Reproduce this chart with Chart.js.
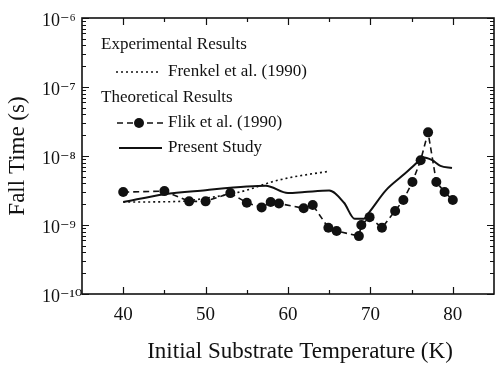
<!DOCTYPE html>
<html>
<head>
<meta charset="utf-8">
<script src="https://cdn.jsdelivr.net/npm/chart.js@4.4.1/dist/chart.umd.min.js"></script>
<style>
  html, body { margin: 0; padding: 0; background: #fff; }
  #wrap { width: 499px; height: 366px; position: relative; }
</style>
</head>
<body>
<div id="wrap"><canvas id="c" width="499" height="366"></canvas></div>
<script>
// ---- Data ----
const xTickValues = [40, 50, 60, 70, 80];
const yTickValues = [1e-10, 1e-9, 1e-8, 1e-7, 1e-6];
const yTickLabels = ['10\u207B\u00B9\u2070', '10\u207B\u2079', '10\u207B\u2078', '10\u207B\u2077', '10\u207B\u2076'];

const frenkelTemps  = [40, 47, 50, 53, 55, 58, 60, 62, 65];
const frenkelValues = [2.15e-9, 2.2e-9, 2.45e-9, 2.8e-9, 3.2e-9, 4.2e-9, 4.8e-9, 5.3e-9, 6.0e-9];

const flikTemps  = [40, 45, 48, 50, 53, 55, 56.8, 57.9, 58.9, 61.9, 63, 64.9, 65.9, 68.6, 68.9, 69.9, 71.4, 73, 74, 75.1, 76.1, 77, 78, 79, 80];
const flikValues = [3.0e-9, 3.1e-9, 2.2e-9, 2.2e-9, 2.9e-9, 2.1e-9, 1.8e-9, 2.15e-9, 2.05e-9, 1.75e-9, 1.95e-9, 9.1e-10, 8.2e-10, 6.9e-10, 1.0e-9, 1.3e-9, 9.1e-10, 1.6e-9, 2.3e-9, 4.2e-9, 8.7e-9, 2.2e-8, 4.2e-9, 3.0e-9, 2.3e-9];

const presentTemps  = [40, 45, 50, 55, 57.3, 60, 62, 65, 66.8, 68.1, 69.2, 69.9, 71.9, 73.9, 75.7, 76.3, 77.5, 78.5, 79.9];
const presentValues = [2.15e-9, 2.8e-9, 3.2e-9, 3.6e-9, 3.7e-9, 2.9e-9, 3.0e-9, 3.15e-9, 2.1e-9, 1.23e-9, 1.23e-9, 1.55e-9, 3.2e-9, 5.2e-9, 8.1e-9, 9.6e-9, 8.7e-9, 7.2e-9, 6.7e-9];

const seriesNames = ['Frenkel et al. (1990)', 'Flik et al. (1990)', 'Present Study'];
const legendHeaders = ['Experimental Results', 'Theoretical Results'];
const xTitle = 'Initial Substrate Temperature (K)';
const yTitle = 'Fall Time (s)';

// ---- Chart ----
const SERIF = "'Liberation Serif', 'Times New Roman', 'DejaVu Serif', serif";
const INK = '#111';
const toPts = (xs, ys) => xs.map((x, i) => ({ x: x, y: ys[i] }));

const framePlugin = {
  id: 'frame',
  afterDraw(chart) {
    const { ctx, chartArea: a, scales } = chart;
    const xs = scales.x, ys = scales.y;
    ctx.save();
    ctx.strokeStyle = INK;
    ctx.lineWidth = 1.6;
    ctx.strokeRect(a.left, a.top, a.right - a.left, a.bottom - a.top);
    ctx.lineWidth = 1.2;
    ctx.beginPath();
    // x ticks (inward, bottom and top)
    for (let v = 40; v <= 80; v += 5) {
      const px = Math.round(xs.getPixelForValue(v)) + 0.5;
      const len = (v % 10 === 0) ? 7 : 4;
      ctx.moveTo(px, a.bottom); ctx.lineTo(px, a.bottom - len);
      ctx.moveTo(px, a.top); ctx.lineTo(px, a.top + len);
    }
    // y ticks (inward, left and right), log minors
    for (let e = -10; e <= -6; e++) {
      for (let m = 1; m <= 9; m++) {
        const v = m * Math.pow(10, e);
        if (v > 1.0000001e-6) break;
        const py = Math.round(ys.getPixelForValue(v)) + 0.5;
        const len = (m === 1) ? 7 : 4;
        ctx.moveTo(a.left, py); ctx.lineTo(a.left + len, py);
        ctx.moveTo(a.right, py); ctx.lineTo(a.right - len, py);
      }
    }
    ctx.stroke();

    // x axis title
    ctx.fillStyle = INK;
    ctx.font = '23px ' + SERIF;
    ctx.textAlign = 'center';
    ctx.textBaseline = 'middle';
    ctx.fillText(xTitle, 300, 352);

    // legend
    ctx.font = '17px ' + SERIF;
    ctx.textAlign = 'left';
    ctx.fillText(legendHeaders[0], 101, 45);
    ctx.fillText(seriesNames[0], 168, 72);
    ctx.fillText(legendHeaders[1], 101, 98);
    ctx.fillText(seriesNames[1], 168, 123);
    ctx.fillText(seriesNames[2], 168, 148);

    ctx.lineWidth = 1.5;
    ctx.setLineDash([2, 3]);
    ctx.beginPath(); ctx.moveTo(116, 72); ctx.lineTo(161, 72); ctx.stroke();
    ctx.setLineDash([6, 4]);
    ctx.beginPath(); ctx.moveTo(117, 123); ctx.lineTo(165, 123); ctx.stroke();
    ctx.setLineDash([]);
    ctx.beginPath(); ctx.arc(139, 123, 5, 0, Math.PI * 2); ctx.fill();
    ctx.lineWidth = 2;
    ctx.beginPath(); ctx.moveTo(119, 148); ctx.lineTo(162, 148); ctx.stroke();
    ctx.restore();
  }
};

new Chart(document.getElementById('c'), {
  type: 'line',
  data: {
    datasets: [
      {
        label: seriesNames[0],
        data: toPts(frenkelTemps, frenkelValues),
        borderColor: INK, borderWidth: 1.6, borderDash: [2, 3],
        pointRadius: 0, fill: false, cubicInterpolationMode: 'monotone'
      },
      {
        label: seriesNames[1],
        data: toPts(flikTemps, flikValues),
        borderColor: INK, borderWidth: 1.6, borderDash: [6, 4],
        pointRadius: 5, pointBackgroundColor: INK, pointBorderColor: INK, pointBorderWidth: 0,
        fill: false, tension: 0
      },
      {
        label: seriesNames[2],
        data: toPts(presentTemps, presentValues),
        borderColor: INK, borderWidth: 2,
        pointRadius: 0, fill: false, cubicInterpolationMode: 'monotone'
      }
    ]
  },
  options: {
    responsive: false,
    animation: false,
    devicePixelRatio: 1,
    layout: { padding: { top: 18, right: 1, left: 42, bottom: 0 } },
    plugins: { legend: { display: false }, tooltip: { enabled: false } },
    scales: {
      x: {
        type: 'linear', min: 35, max: 85,
        grid: { display: false, drawTicks: false },
        border: { display: false },
        afterBuildTicks: (s) => { s.ticks = xTickValues.map(v => ({ value: v })); },
        afterFit: (s) => { s.height = 72; },
        ticks: {
          padding: 10, color: INK, maxRotation: 0,
          font: { family: SERIF, size: 19 },
          callback: (v) => String(v)
        }
      },
      y: {
        type: 'logarithmic', min: 1e-10, max: 1e-6,
        grid: { display: false, drawTicks: false },
        border: { display: false },
        afterBuildTicks: (s) => { s.ticks = yTickValues.map(v => ({ value: v })); },
        afterFit: (s) => { s.width = 40; },
        title: {
          display: true, text: yTitle, color: INK,
          font: { family: SERIF, size: 23 },
          padding: { top: -38, bottom: 0 }
        },
        ticks: {
          crossAlign: 'far', color: INK, labelOffset: 3,
          font: { family: SERIF, size: 18 },
          callback: (v) => {
            const i = yTickValues.findIndex(t => Math.abs(Math.log10(t) - Math.log10(v)) < 1e-6);
            return i >= 0 ? yTickLabels[i] : '';
          }
        }
      }
    }
  },
  plugins: [framePlugin]
});
</script>
</body>
</html>
